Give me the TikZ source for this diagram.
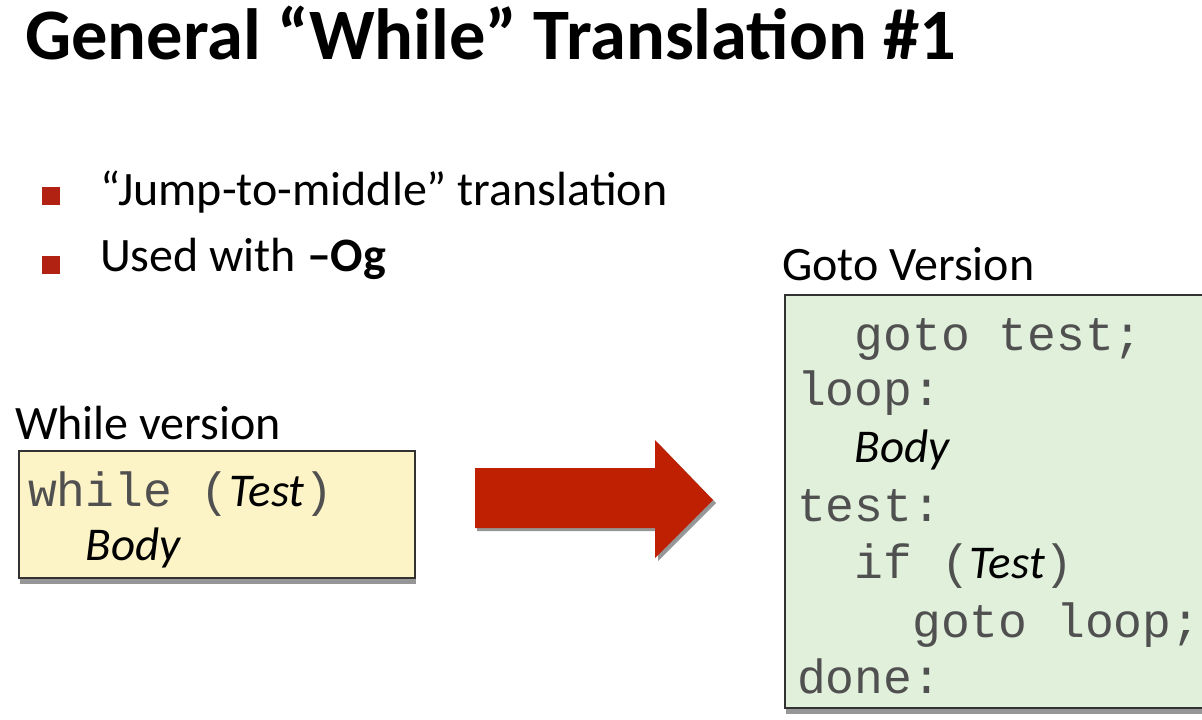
\documentclass[tikz,border=0pt]{standalone}
\usepackage{fontspec}
\setmainfont{Carlito}
\newfontfamily\codefont{Liberation Mono}
\definecolor{bulletred}{RGB}{178,34,18}
\definecolor{arrowred}{RGB}{192,32,2}
\definecolor{whilefill}{RGB}{252,244,198}
\definecolor{gotofill}{RGB}{224,240,218}
\definecolor{boxline}{RGB}{50,50,50}
\definecolor{shadowgray}{RGB}{150,150,150}
\definecolor{codegray}{RGB}{80,80,80}
\newcommand\slotword[1]{{\normalfont\fontsize{47}{47}\selectfont\itshape\color{black}#1}}
\begin{document}
\begin{tikzpicture}[x=1pt,y=-1pt,
  txt/.style={anchor=base west, inner sep=0pt, outer sep=0pt},
  heading/.style={txt, font=\fontsize{72.5}{72.5}\selectfont\bfseries},
  bodytext/.style={txt, font=\fontsize{48}{48}\selectfont},
  codeline/.style={txt, font=\fontsize{48}{48}\selectfont\codefont, text=codegray},
  bulletmark/.style={fill=bulletred, inner sep=0pt, minimum size=18pt, anchor=north west},
  codebox/.style={draw=boxline, line width=2pt},
  boxshadow/.style={fill=shadowgray}
]
\useasboundingbox (0,0) rectangle (1202,720);
\clip (0,0) rectangle (1202,720);
\fill[white] (0,0) rectangle (1202,720);

% title
\node[heading] (title) at (25,59) {General “While” Translation \#1};

% bullet list
\node[bulletmark] (b1) at (42,187) {};
\node[bodytext] (t1) at (100,205) {“Jump-to-middle” translation};
\node[bulletmark] (b2) at (42,256) {};
\node[bodytext] (t2) at (100,271) {Used with \textbf{–Og}};

% while version
\node[bodytext] (whilelabel) at (15,439) {While version};
\fill[boxshadow] (20,457) rectangle (416,584);
\filldraw[codebox, fill=whilefill] (19,451) rectangle (415,578);
\node[codeline] (w1) at (28,506) {while (\slotword{Test})};
\node[codeline] (w2) at (28,560) {\phantom{xx}\slotword{Body}};

% block arrow
\fill[shadowgray] (477,471) -- (658,471) -- (658,443) -- (716,503) -- (658,561) -- (658,531) -- (477,531) -- cycle;
\fill[arrowred] (475,468) -- (655,468) -- (655,440) -- (713,500) -- (655,558) -- (655,528) -- (475,528) -- cycle;

% goto version
\node[bodytext] (gotolabel) at (782,280) {Goto Version};
\fill[boxshadow] (786,301) rectangle (1230,714);
\filldraw[codebox, fill=gotofill] (785,295) rectangle (1230,708);
\node[codeline] (g1) at (797,350) {\phantom{xx}goto test;};
\node[codeline] (g2) at (797,405) {loop:};
\node[codeline] (g3) at (797,462) {\phantom{xx}\slotword{Body}};
\node[codeline] (g4) at (797,521) {test:};
\node[codeline] (g5) at (797,578) {\phantom{xx}if (\slotword{Test})};
\node[codeline] (g6) at (797,637) {\phantom{xxxx}goto loop;};
\node[codeline] (g7) at (797,693) {done:};
\end{tikzpicture}
\end{document}
